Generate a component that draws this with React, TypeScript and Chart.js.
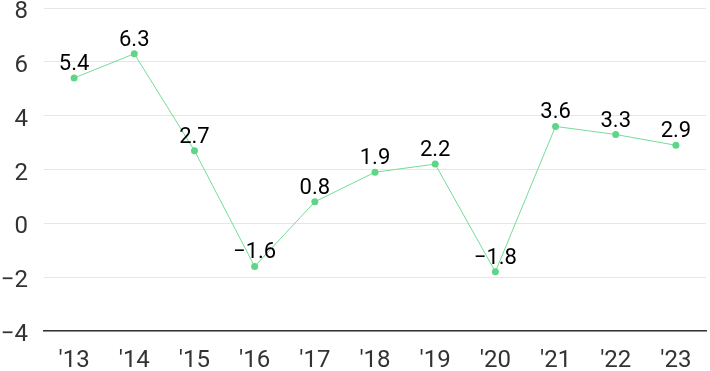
import React, { useEffect, useRef } from "react";
import { Chart, registerables } from "chart.js";

Chart.register(...registerables);

const categories = ["'13", "'14", "'15", "'16", "'17", "'18", "'19", "'20", "'21", "'22", "'23"];
const values = [5.4, 6.3, 2.7, -1.6, 0.8, 1.9, 2.2, -1.8, 3.6, 3.3, 2.9];
const yTicks = [-4, -2, 0, 2, 4, 6, 8];

const fmt = (v: number) => (v < 0 ? "\u2212" + Math.abs(v) : String(v));

const labelPlugin = {
  id: "valueLabels",
  afterDatasetsDraw(chart: any) {
    const ctx = chart.ctx;
    const meta = chart.getDatasetMeta(0);
    ctx.save();
    ctx.font = "22px Roboto";
    ctx.fillStyle = "#000";
    ctx.textAlign = "center";
    ctx.textBaseline = "alphabetic";
    meta.data.forEach((pt: any, i: number) => {
      ctx.fillText(fmt(values[i]), pt.x, pt.y - 8);
    });
    // y tick labels
    const ys = chart.scales.y;
    ctx.font = "24px Roboto";
    ctx.fillStyle = "#333";
    ctx.textAlign = "right";
    ctx.textBaseline = "middle";
    yTicks.forEach((v) => {
      ctx.fillText(fmt(v), ys.right - 16, ys.getPixelForValue(v) + 4);
    });
    ctx.restore();
  },
};

export default function App() {
  const ref = useRef<HTMLCanvasElement>(null);
  useEffect(() => {
    document.body.style.margin = "0";
    const chart = new Chart(ref.current!, {
      type: "line",
      data: {
        labels: categories,
        datasets: [
          {
            data: values,
            borderColor: "#72dd97",
            borderWidth: 1,
            backgroundColor: "#5fd687",
            pointBackgroundColor: "#5fd687",
            pointBorderWidth: 0,
            pointRadius: 3.5,
            tension: 0,
          },
        ],
      },
      options: {
        animation: false,
        responsive: false,
        maintainAspectRatio: false,
        layout: { padding: 0 },
        plugins: { legend: { display: false }, tooltip: { enabled: false } },
        scales: {
          x: {
            offset: true,
            afterFit: (s: any) => {
              s.height = 40;
              s.paddingLeft = 0;
              s.paddingRight = 0;
            },
            grid: { display: false, drawTicks: false },
            border: { display: true, color: "#333", width: 1.5 },
            ticks: { color: "#333", font: { family: "Roboto", size: 24 }, padding: 16, maxRotation: 0 },
          },
          y: {
            min: -4,
            max: 8,
            afterFit: (s: any) => {
              s.width = 44;
              s.paddingTop = 8;
              s.paddingBottom = 0;
            },
            afterBuildTicks: (s: any) => {
              s.ticks = yTicks.map((v) => ({ value: v }));
            },
            grid: { color: "#e6e6e6", drawTicks: false },
            border: { display: false },
            ticks: { display: false },
          },
        },
      },
      plugins: [labelPlugin],
    });
    return () => chart.destroy();
  }, []);
  return <canvas ref={ref} width={710} height={371} style={{ display: "block" }} />;
}
